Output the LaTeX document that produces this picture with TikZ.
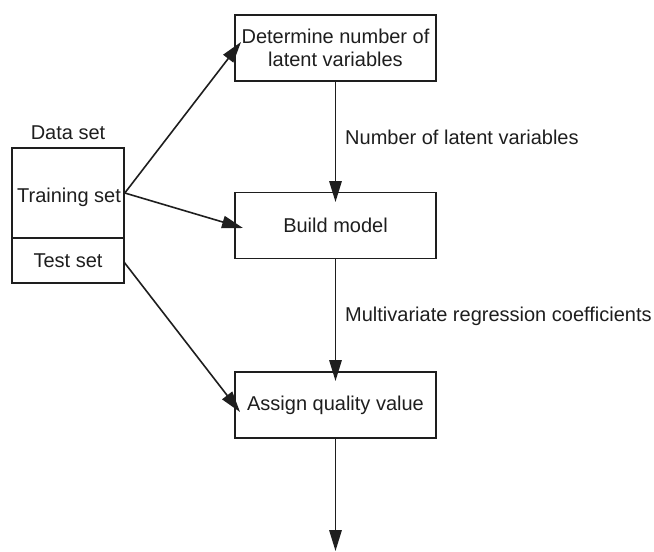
\documentclass[tikz,border=0pt]{standalone}
\usepackage{fontspec}
\setmainfont{Liberation Sans}
\usetikzlibrary{arrows.meta}
\definecolor{ink}{HTML}{1E1E1E}
\begin{document}
\begin{tikzpicture}[x=1pt,y=-1pt,
  box/.style={draw=ink,line width=1.6pt,minimum width=201pt,minimum height=66pt,inner sep=0pt,align=center,text=ink,font=\fontsize{20}{23.5}\selectfont},
  cell/.style={draw=ink,line width=1.6pt,minimum width=112pt,inner sep=0pt,text=ink,font=\fontsize{20}{23.5}\selectfont},
  lbl/.style={text=ink,font=\fontsize{20}{23.5}\selectfont,inner sep=0pt},
  arr/.style={draw=ink,line width=1.6pt,-{Triangle[length=21pt,width=12.5pt]}}]
\useasboundingbox (0,0) rectangle (654,552);
\node[box] (det) at (335.5,48) {Determine number of\\latent variables};
\node[box] (build) at (335.5,225.5) {Build model};
\node[box] (assign) at (335.5,405) {Assign quality value};
\node[cell,minimum height=90pt] (train) at (68,193) {};
\node[lbl] at (69,197) {Training set};
\node[cell,minimum height=45pt] (test) at (68,260.5) {Test set};
\node[lbl] (ds) at (68,133) {Data set};
\node[lbl,anchor=west] (l1) at (345,137) {Number of latent variables};
\node[lbl,anchor=west] (l2) at (345,316) {Multivariate regression coefficients};
\coordinate (t1) at (241,42);
\coordinate (t2) at (243,228);
\coordinate (t3) at (240,412);
\coordinate (v1) at (335.5,202);
\coordinate (v2) at (335.5,381);
\coordinate (v3) at (335.5,551);
\coordinate (s3) at (124,262);
\draw[arr] (train.east) -- (t1);
\draw[arr] (train.east) -- (t2);
\draw[arr] (s3) -- (t3);
\draw[arr] (det.south) -- (v1);
\draw[arr] (build.south) -- (v2);
\draw[arr] (assign.south) -- (v3);
\end{tikzpicture}
\end{document}
